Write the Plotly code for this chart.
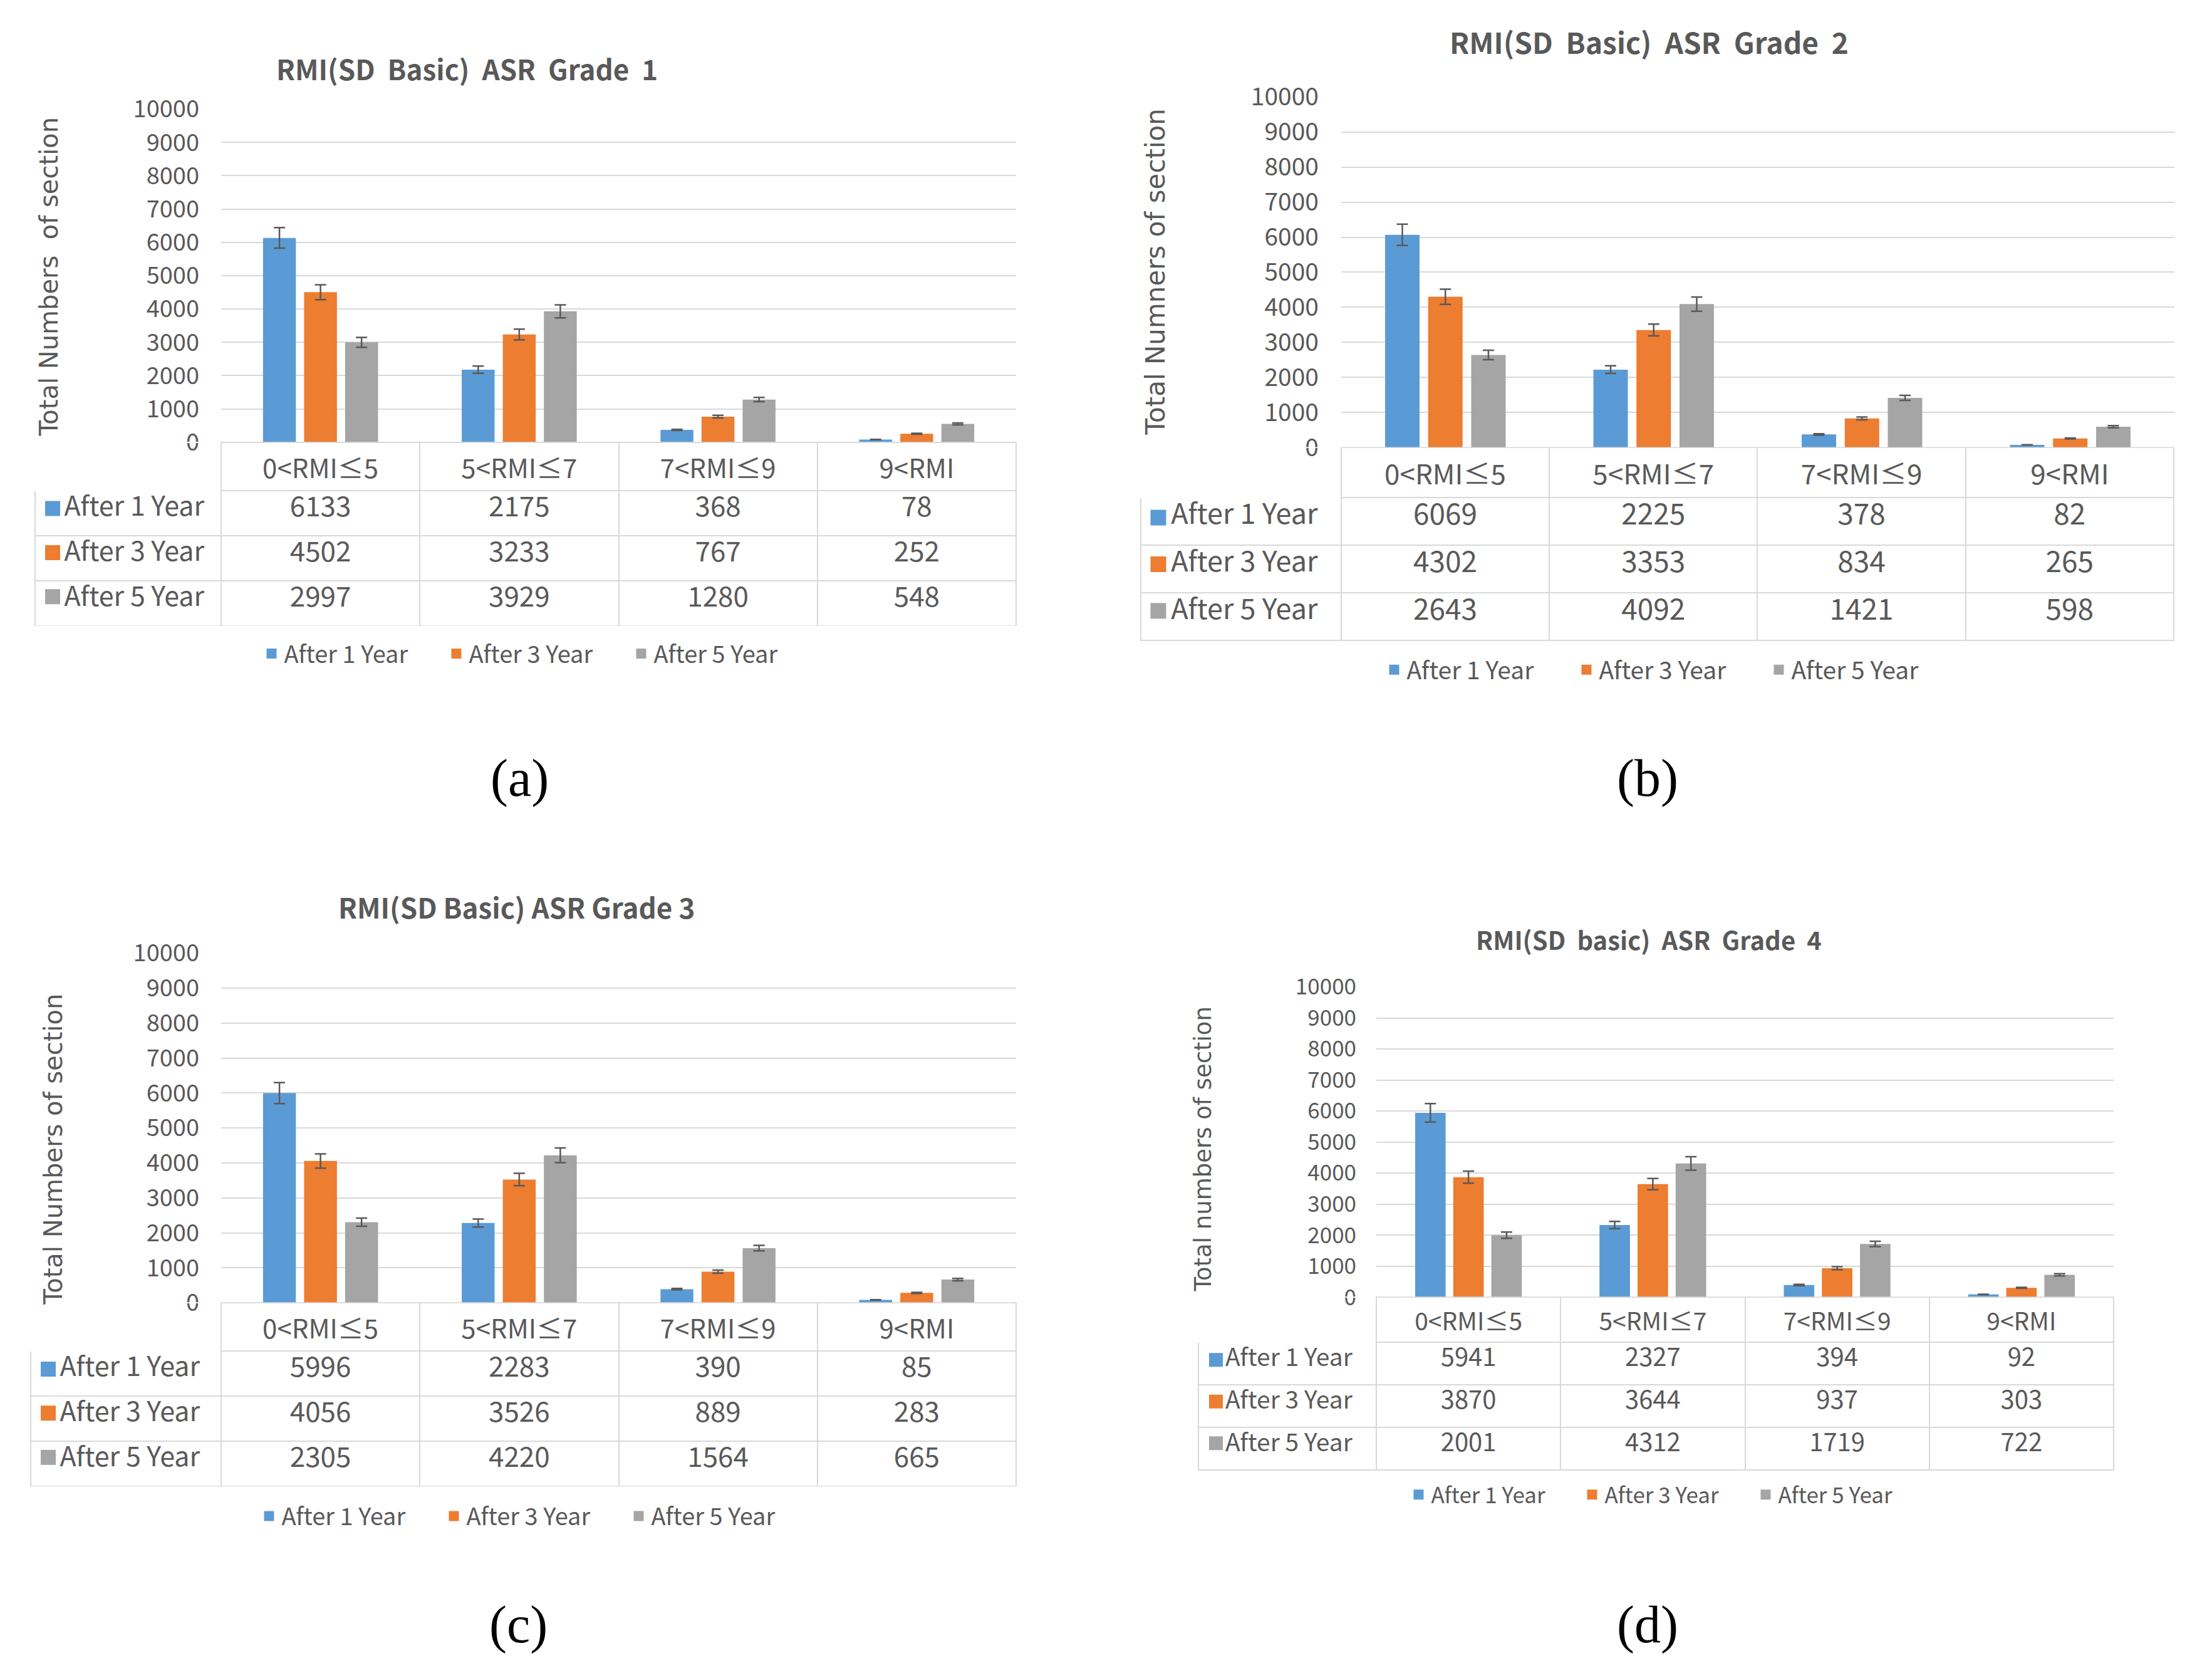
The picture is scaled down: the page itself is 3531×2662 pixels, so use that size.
import plotly.graph_objects as go

W, H = 3531, 2662

# Data
CATEGORIES = ["0<RMI≤5", "5<RMI≤7", "7<RMI≤9", "9<RMI"]
SERIES = ["After 1 Year", "After 3 Year", "After 5 Year"]

grade1_y1 = [6133, 2175, 368, 78]
grade1_y3 = [4502, 3233, 767, 252]
grade1_y5 = [2997, 3929, 1280, 548]

grade2_y1 = [6069, 2225, 378, 82]
grade2_y3 = [4302, 3353, 834, 265]
grade2_y5 = [2643, 4092, 1421, 598]

grade3_y1 = [5996, 2283, 390, 85]
grade3_y3 = [4056, 3526, 889, 283]
grade3_y5 = [2305, 4220, 1564, 665]

grade4_y1 = [5941, 2327, 394, 92]
grade4_y3 = [3870, 3644, 937, 303]
grade4_y5 = [2001, 4312, 1719, 722]

TITLES = ["RMI(SD  Basic)  ASR  Grade  1", "RMI(SD  Basic)  ASR  Grade  2",
          "RMI(SD Basic) ASR Grade 3", "RMI(SD  basic)  ASR  Grade  4"]
YTITLES = ["Total Numbers  of section", "Total Numners of section",
           "Total Numbers of section", "Total numbers of section"]
LABELS = ["(a)", "(b)", "(c)", "(d)"]

BLUE, ORANGE, GRAY = "#5B9BD5", "#ED7D31", "#A5A5A5"
COLORS = [BLUE, ORANGE, GRAY]
TXT = "#595959"
GRID = "#D9D9D9"
FONT = "Noto Sans CJK KR, sans-serif"

# panel geometry in page pixels
PANELS = [
    dict(px0=345, px1=1614, py0=138, py1=681, tab_l=48, row_h=72, title=(737, 72),
         ytitle=(70, 412), legend=(848, 1026), label=(821, 1229), k=1.0),
    dict(px0=2133, px1=3463, py0=118, py1=690, tab_l=1813, row_h=76, title=(2624, 28),
         ytitle=(1837, 403), legend=(2658, 1052), label=(2622, 1229), k=1.05),
    dict(px0=345, px1=1614, py0=1514, py1=2084, tab_l=41, row_h=72, title=(816, 1438),
         ytitle=(77, 1834), legend=(844, 2432), label=(819, 2609), k=1.0),
    dict(px0=2189, px1=3366, py0=1569, py1=2075, tab_l=1905, row_h=68, title=(2624, 1491),
         ytitle=(1912, 1834), legend=(2652, 2397), label=(2622, 2609), k=0.93),
]

DATA = [
    (grade1_y1, grade1_y3, grade1_y5),
    (grade2_y1, grade2_y3, grade2_y5),
    (grade3_y1, grade3_y3, grade3_y5),
    (grade4_y1, grade4_y3, grade4_y5),
]


def fx(p):
    return p / W


def fy(p):
    return 1 - p / H


fig = go.Figure()
annotations = []
layout = {}

for i, (p, vals) in enumerate(zip(PANELS, DATA)):
    n = "" if i == 0 else str(i + 1)
    m = str(i + 5)  # hidden axes for the colour keys inside the table
    leg = "legend" if i == 0 else f"legend{i + 1}"
    k = p["k"]
    row_h = p["row_h"]

    for name, v, c in zip(SERIES, vals, COLORS):
        fig.add_trace(go.Bar(
            x=CATEGORIES, y=v, name=name, marker_color=c, marker_line_width=0,
            xaxis=f"x{n}", yaxis=f"y{n}", showlegend=False,
            error_y=dict(type="percent", value=5, color=TXT, thickness=2.5, width=9),
        ))
    # legend keys (bigger squares than the bar legend icon)
    for name, c in zip(SERIES, COLORS):
        fig.add_trace(go.Scatter(
            x=[None], y=[None], mode="markers", name=name, legend=leg,
            marker=dict(symbol="square", size=16, color=c),
            xaxis=f"x{n}", yaxis=f"y{n}",
        ))

    layout[f"xaxis{n}"] = dict(
        domain=[fx(p["px0"]), fx(p["px1"])], anchor=f"y{n}",
        type="category", categoryarray=CATEGORIES,
        showticklabels=False, showgrid=False, zeroline=False, showline=False,
    )
    layout[f"yaxis{n}"] = dict(
        domain=[fy(p["py1"]), fy(p["py0"])], anchor=f"x{n}",
        range=[0, 10000], dtick=1000, tickformat="d",
        showgrid=True, gridcolor=GRID, gridwidth=2,
        zeroline=False, showline=False, ticks="", ticklabelstandoff=int(34 * k),
        tickfont=dict(family=FONT, size=int(38 * k), color=TXT),
    )
    layout[leg] = dict(
        orientation="h", x=fx(p["legend"][0]), y=fy(p["legend"][1]),
        xanchor="center", yanchor="middle",
        font=dict(family=FONT, size=int(38 * k), color=TXT),
        entrywidth=int(250 * k), bgcolor="rgba(0,0,0,0)", traceorder="normal",
    )

    # colour keys of the table rows
    fig.add_trace(go.Scatter(
        x=[0] * len(SERIES), y=SERIES, mode="markers", showlegend=False,
        marker=dict(symbol="square", size=int(24 * k), color=COLORS),
        xaxis=f"x{m}", yaxis=f"y{m}", hoverinfo="skip",
    ))
    layout[f"xaxis{m}"] = dict(
        domain=[fx(p["tab_l"] + 14), fx(p["tab_l"] + 42)], anchor=f"y{m}",
        range=[-1, 1], visible=False,
    )
    layout[f"yaxis{m}"] = dict(
        domain=[fy(p["py1"] + 4 * row_h), fy(p["py1"] + row_h)], anchor=f"x{m}",
        type="category", categoryarray=SERIES, range=[2.5, -0.5], visible=False,
    )

    # data table under the plot
    first_w = p["px0"] - p["tab_l"]
    col_w = (p["px1"] - p["px0"]) / len(CATEGORIES)
    row_labels = ["\u00a0" * 4 + s for s in SERIES]
    columns = [row_labels] + [[v[j] for v in vals] for j in range(len(CATEGORIES))]
    fig.add_trace(go.Table(
        domain=dict(x=[fx(p["tab_l"]), fx(p["px1"])],
                    y=[fy(p["py1"] + 4 * row_h + 12), fy(p["py1"])]),
        columnwidth=[first_w] + [col_w] * len(CATEGORIES),
        header=dict(
            values=[""] + CATEGORIES, height=row_h,
            fill_color="rgba(0,0,0,0)", align="center",
            line=dict(color=["white"] + [GRID] * 4, width=2),
            font=dict(family=FONT, size=int(42 * k), color=TXT),
        ),
        cells=dict(
            values=columns, height=row_h, fill_color="rgba(0,0,0,0)",
            align=["left"] + ["center"] * 4,
            line=dict(color=GRID, width=2),
            font=dict(family=FONT, size=[int(43 * k)] + [int(44 * k)] * 4, color=TXT),
        ),
    ))

    annotations.append(dict(
        x=fx(p["title"][0]), y=fy(p["title"][1]), xref="paper", yref="paper",
        text=f"<b>{TITLES[i]}</b>", showarrow=False, xanchor="center", yanchor="middle",
        font=dict(family=FONT, size=int(44 * k), color=TXT),
    ))
    annotations.append(dict(
        x=fx(p["ytitle"][0]), y=fy(p["ytitle"][1]), xref="paper", yref="paper",
        text=YTITLES[i], showarrow=False, textangle=-90, xanchor="center", yanchor="middle",
        font=dict(family="DejaVu Sans", size=int(40 * k), color=TXT),
    ))
    annotations.append(dict(
        x=fx(p["label"][0]), y=fy(p["label"][1]), xref="paper", yref="paper",
        text=LABELS[i], showarrow=False, xanchor="center", yanchor="middle",
        font=dict(family="Liberation Serif", size=84, color="black"),
    ))

fig.update_layout(
    width=W, height=H, margin=dict(l=0, r=0, t=0, b=0),
    paper_bgcolor="white", plot_bgcolor="white",
    barmode="group", bargap=0.38, bargroupgap=0.2,
    annotations=annotations, **layout,
)

fig.write_html("out.html")
